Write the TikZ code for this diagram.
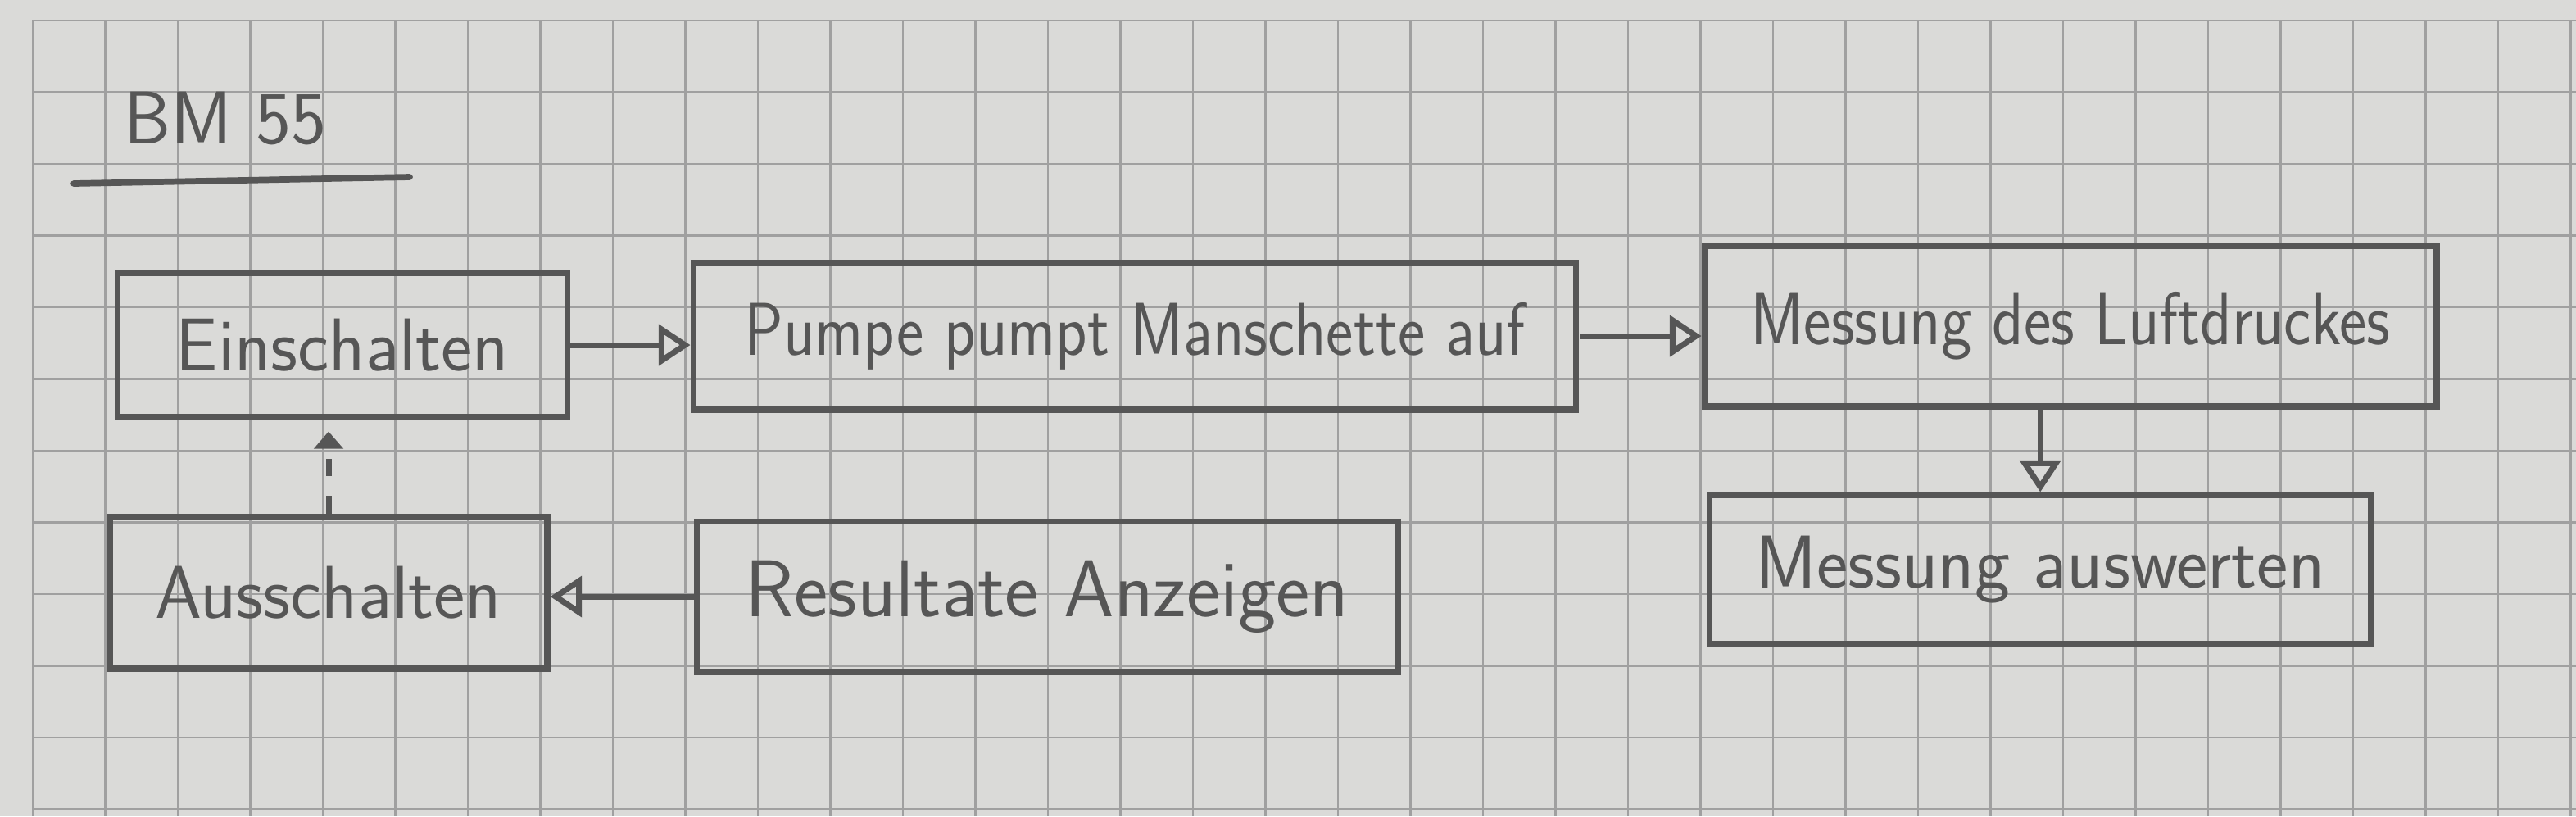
\documentclass[tikz,border=0pt]{standalone}
\usepackage{fontspec}
\usepackage{xcolor}
\usetikzlibrary{arrows.meta}

\definecolor{paper}{RGB}{218,218,216}
\definecolor{gridline}{RGB}{160,160,160}
\definecolor{pencil}{RGB}{86,86,86}

\newcommand{\narrowtext}[1]{\scalebox{0.87}[1]{#1}}

\tikzset{
  hand/.style={text=pencil, font=\sffamily\fontsize{26}{30}\selectfont},
  stepbox/.style={hand, draw=pencil, line width=2pt, inner sep=0pt},
  flow/.style={draw=pencil, line width=2pt, -{Triangle[open, length=11pt, width=14pt]}},
  back/.style={draw=pencil, line width=2pt, dash pattern=on 6pt off 7pt,
    -{Triangle[length=6pt, width=10pt]}, shorten >=4pt}
}

\begin{document}
\begin{tikzpicture}[scale=0.1]
    \useasboundingbox (0,0) rectangle (314.4,-99.6);
    % grid paper
    \fill [paper] (0,0) rectangle (314.4,-99.6);
    \foreach \i in {0,...,35}
      \draw [gridline, line width=0.7pt] (4+8.85*\i,-2.5) -- (4+8.85*\i,-99.6);
    \foreach \j in {0,...,11}
      \draw [gridline, line width=0.7pt] (4,-2.5-8.75*\j) -- (314.4,-2.5-8.75*\j);
    % title
    \node [hand] (title) at (27.5,-14.5) {BM 55};
    \coordinate (ul-left) at (9,-22.4);
    \coordinate (ul-right) at (50,-21.6);
    \draw [pencil, line width=2.2pt, line cap=round] (ul-left) -- (ul-right);
    % upper row
    \node [stepbox, minimum width=5.49cm, minimum height=1.76cm] (ein) at (41.8,-42.1) {Einschalten};
    \node [stepbox, minimum width=10.78cm, minimum height=1.80cm] (pumpe) at (138.5,-41.0) {\narrowtext{Pumpe pumpt Manschette auf}};
    \node [stepbox, minimum width=8.94cm, minimum height=1.96cm] (luft) at (252.7,-39.8) {\narrowtext{Messung des Luftdruckes}};
    % lower row
    \node [stepbox, minimum width=8.08cm, minimum height=1.82cm] (ausw) at (249.0,-69.5) {Messung auswerten};
    \node [stepbox, minimum width=8.56cm, minimum height=1.84cm, font=\sffamily\fontsize{28}{32}\selectfont] (result) at (127.8,-72.8) {Resultate Anzeigen};
    \node [stepbox, minimum width=5.34cm, minimum height=1.86cm] (aus) at (40.1,-72.3) {Ausschalten};
    % connectors
    \draw [flow] (ein.east) -- (ein.east -| pumpe.west);
    \draw [flow] (pumpe.east) -- (pumpe.east -| luft.west);
    \draw [flow] (luft.south -| ausw.north) -- (ausw.north);
    \draw [flow] (result.west) -- (result.west -| aus.east);
    \draw [back] (aus.north) -- (aus.north |- ein.south);
\end{tikzpicture}
\end{document}
